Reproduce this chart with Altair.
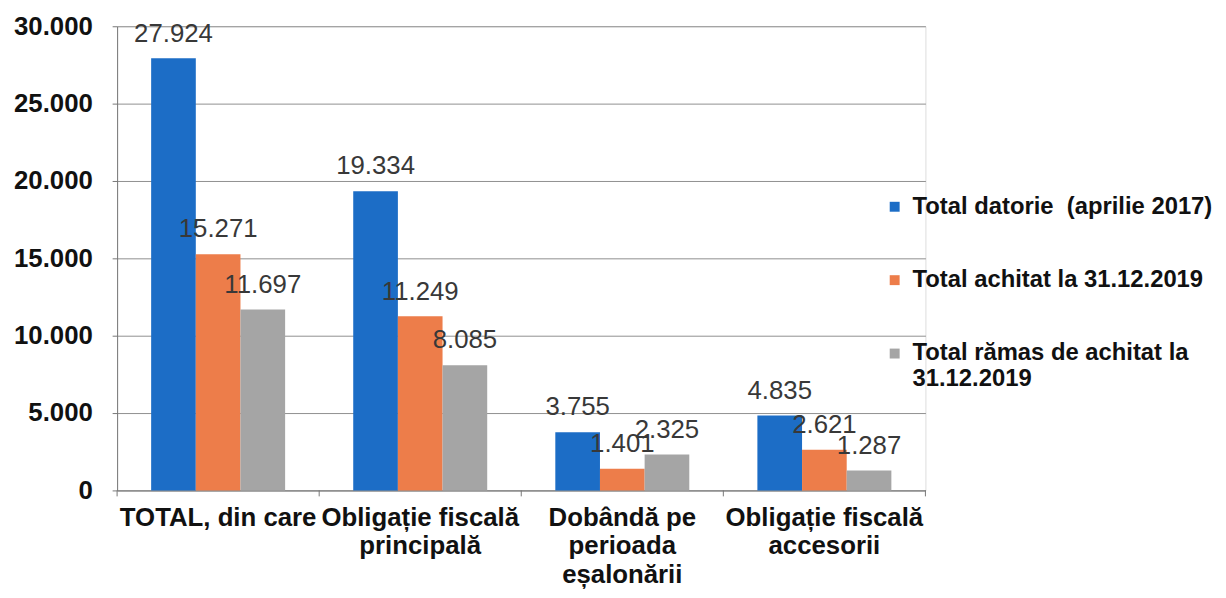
import altair as alt
import pandas as pd

categories = ["TOTAL, din care", "Obligație fiscală|principală", "Dobândă pe|perioada|eșalonării", "Obligație fiscală|accesorii"]
series = ["Total datorie \u00a0(aprilie 2017)", "Total achitat la 31.12.2019", "Total rămas de achitat la 31.12.2019"]
total_datorie = [27924, 19334, 3755, 4835]
total_achitat = [15271, 11249, 1401, 2621]
total_ramas = [11697, 8085, 2325, 1287]
colors = ["#1C6DC6", "#ED7D4A", "#A5A5A5"]

rows = []
for vals, s in zip([total_datorie, total_achitat, total_ramas], series):
    for c, v in zip(categories, vals):
        rows.append({"cat": c, "series": s, "value": v, "lbl": f"{v:,}".replace(",", ".")})
df = pd.DataFrame(rows)
ticks_df = pd.DataFrame({"cat": categories})
last_df = pd.DataFrame({"cat": categories[-1:]})

FONT = "Liberation Sans"
W = 815
H = 468
PI = 0.337
xscale = alt.Scale(domain=categories, paddingInner=PI, paddingOuter=PI / 2)
half_gap = (PI / 2) * W / len(categories)

xaxis = alt.Axis(labelExpr="split(datum.label, '|')", labelAngle=0, labelFont=FONT,
                 labelFontSize=26, labelFontWeight="bold", labelColor="#111",
                 labelPadding=14, labelLineHeight=29, labelLimit=400, ticks=False,
                 domainColor="#777", domainWidth=1)
x = alt.X("cat:N", sort=categories, title=None, scale=xscale, axis=xaxis)
xo = alt.XOffset("series:N", sort=series)

bars = alt.Chart(df).mark_bar().encode(
    x=x, xOffset=xo,
    y=alt.Y("value:Q", title=None,
            scale=alt.Scale(domain=[0, 30000]),
            axis=alt.Axis(values=[0, 5000, 10000, 15000, 20000, 25000, 30000],
                          labelExpr="replace(format(datum.value, ','), ',', '.')",
                          labelFont=FONT, labelFontSize=26, labelFontWeight="bold",
                          labelColor="#111", labelPadding=20, tickColor="#777", tickSize=5,
                          domainColor="#777", gridColor="#8f8f8f", gridWidth=1)),
    color=alt.Color("series:N", sort=series, title=None,
                    scale=alt.Scale(domain=series, range=colors),
                    legend=alt.Legend(orient="none", legendX=772, legendY=170,
                                      symbolType="square", symbolSize=100, symbolStrokeWidth=0,
                                      labelFont=FONT, labelFontSize=24, labelFontWeight="bold",
                                      labelColor="#111", labelLimit=400, rowPadding=50,
                                      labelOffset=6,
                                      labelExpr="datum.label == 'Total rămas de achitat la 31.12.2019' ? ['Total rămas de achitat la', '31.12.2019'] : datum.label")),
)

text = alt.Chart(df).mark_text(baseline="alphabetic", dy=-17, font=FONT, fontSize=26, color="#383838").encode(
    x=x, xOffset=xo, y="value:Q", text="lbl:N")

tick_marks = alt.Chart(ticks_df).mark_rule(color="#777", xOffset=-half_gap).encode(
    x=alt.X("cat:N", sort=categories, title=None, scale=xscale, bandPosition=0, axis=xaxis),
    y=alt.value(H), y2=alt.value(H + 6))
tick_last = alt.Chart(last_df).mark_rule(color="#777", xOffset=half_gap).encode(
    x=alt.X("cat:N", sort=categories, title=None, scale=xscale, bandPosition=1, axis=xaxis),
    y=alt.value(H), y2=alt.value(H + 6))

chart = (bars + text + tick_marks + tick_last).properties(
    width=W, height=H,
    padding={"left": 5, "top": 3, "right": 5, "bottom": 0},
).configure_view(stroke=None).configure(background="white")
chart.save("out.html", embed_options={"renderer": "svg", "actions": False})
